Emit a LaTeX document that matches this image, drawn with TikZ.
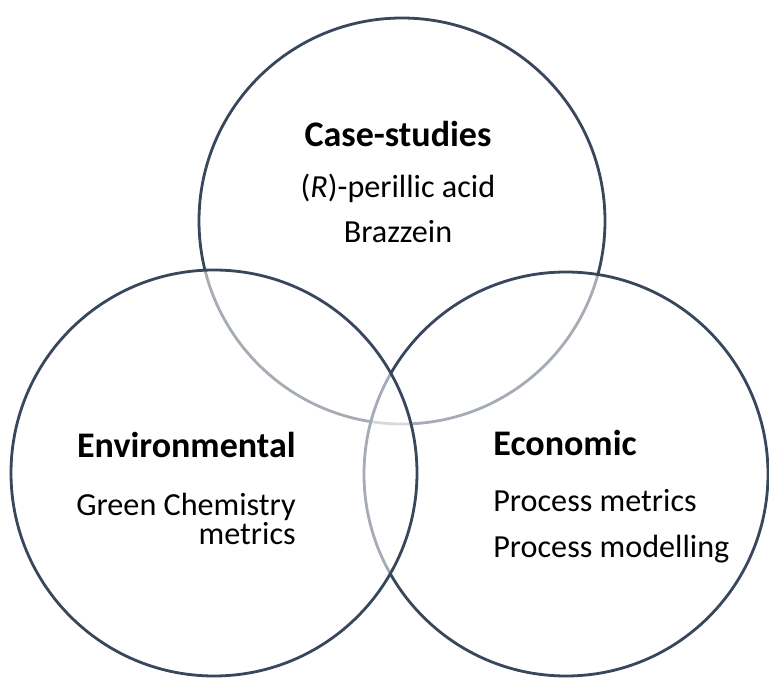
\documentclass[tikz,border=0pt]{standalone}
\usepackage{fontspec}
\setmainfont{Carlito}
\usepackage{tikz}

\definecolor{ringcol}{RGB}{56,71,92}

\begin{document}
\begin{tikzpicture}[
    ring/.style={draw=ringcol, line width=1.6pt, fill=white, fill opacity=0.55},
    head/.style={font=\bfseries\fontsize{20.5}{24}\selectfont, inner sep=0pt},
    item/.style={font=\fontsize{18.3}{22}\selectfont, inner sep=0pt}]
  \useasboundingbox (0,0) rectangle (15.38,13.56);

  % Kreise
  \draw[ring] (8.04,9.14) circle (4.06);
  \draw[ring] (11.32,4.08) circle (4.04);
  \draw[ring] (4.28,4.10) circle (4.06);

  % oben
  \node[head, anchor=base] (case) at (7.96,10.62) {Case-studies};
  \node[item, anchor=base] (peril) at (7.96,9.60) {(\textit{R})-perillic acid};
  \node[item, anchor=base] (brazz) at (7.96,8.70) {Brazzein};

  % links
  \node[head, anchor=base east] (env) at (5.92,4.40) {Environmental};
  \node[item, anchor=base east] (green) at (5.92,3.26) {Green Chemistry};
  \node[item, anchor=base east] (gmet) at (5.92,2.66) {metrics};

  % rechts
  \node[head, anchor=base west] (eco) at (9.86,4.44) {Economic};
  \node[item, anchor=base west] (pmet) at (9.86,3.34) {Process metrics};
  \node[item, anchor=base west] (pmod) at (9.86,2.42) {Process modelling};

\end{tikzpicture}
\end{document}
